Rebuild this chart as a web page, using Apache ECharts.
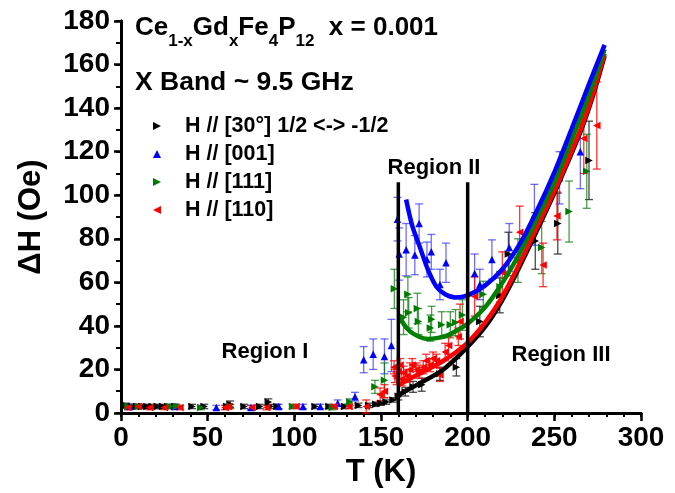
<!DOCTYPE html>
<html>
<head>
<meta charset="utf-8">
<script src="https://cdn.jsdelivr.net/npm/echarts@6/dist/echarts.min.js"></script>
<style>
  html, body { margin: 0; padding: 0; background: #fff; }
  #chart { width: 675px; height: 493px; }
</style>
</head>
<body>
<div id="chart"></div>
<script>
// ---- measured points (T in K, linewidth in Oe, error half-width) ----
const blackT = [3, 6, 9, 12, 15, 18, 21, 24, 27, 31, 41, 48, 61, 63, 71, 80, 85, 86, 90, 112, 120, 129, 137, 143, 147, 150, 153, 157, 160, 164, 168.5, 173.5, 184, 193.5, 207, 218.5, 223.5, 239, 252, 270]
const blackY = [3.5, 3, 3, 3, 3, 3, 3, 3, 3, 3, 3, 3, 3, 4, 3, 3, 5, 3, 3, 3, 3, 3, 3.5, 3.5, 4, 4.5, 5, 6, 7.5, 9.8, 12, 13, 18, 21, 42, 54, 73, 79, 87, 116]
const blackErr = [1, 1, 1, 1, 1, 1, 1, 1, 1, 1, 1, 1, 1, 1.5, 1, 1, 1.5, 1, 1, 1, 1, 1, 1, 1, 1, 1, 1, 1, 1.5, 2, 2.5, 3, 3, 4, 7, 8, 10, 13, 14, 18]

const blueT = [5, 31, 55, 75, 91, 105, 115, 125, 135, 140, 145.5, 152, 156, 159.5, 160.5, 164.5, 169.5, 172, 176.5, 179, 184, 187.5, 204, 207, 214, 224, 238.5, 253, 265]
const blueY = [3, 3, 2.5, 2.5, 3, 3, 3, 4.5, 7.5, 24.5, 27, 26, 31, 89, 73, 75, 72.5, 87, 70.5, 74, 59, 69, 64, 59, 70.5, 76, 91, 108, 120]
const blueErr = [1, 1, 1, 1, 1, 1, 1, 1.5, 2, 6, 7, 8, 12, 10, 12, 12, 9, 9, 8, 8, 7, 9, 9, 7, 9, 11, 14, 12, 17]

const greenT = [4, 10, 28, 32, 46, 63, 99, 122, 132, 146.5, 152, 157.7, 163, 165.5, 166, 171, 171.6, 178.5, 179.2, 185, 190, 193, 197, 209, 218.7, 229, 242.7, 258.5, 268.7]
const greenY = [3, 3, 3, 3, 2.5, 3, 3, 2.5, 5, 12, 15, 57, 44, 54.5, 46, 48, 42, 39, 43, 40.5, 40.5, 41.5, 45, 54.5, 58, 70, 76, 92.5, 111]
const greenErr = [1, 1, 1, 1, 1, 1, 1, 1, 1.5, 3, 8, 9, 8, 8, 7, 7, 6, 6, 6, 6, 6, 6, 7, 6, 7, 10, 12, 14, 17]

const redT = [4, 10, 16.5, 25, 34, 60, 62, 75.5, 84, 101, 123, 131.5, 141.5, 149.5, 152, 157.5, 158, 159, 160, 161, 162, 163, 165, 166.7, 168, 170.6, 172, 174.4, 176, 178.3, 180, 182, 184, 187, 189, 194.6, 195.6, 204, 220, 230, 243.5, 251.5, 267, 274.5]
const redY = [2.5, 3, 2.5, 2.5, 2.5, 2.5, 3, 2.5, 2.5, 3, 3, 3, 3, 8.5, 10, 21, 17, 16, 19, 22, 15.5, 18.5, 17, 20, 22, 20, 19, 21, 24, 22, 25, 24, 17.5, 28, 31, 35, 42, 53.5, 64.5, 83, 68, 90.5, 126, 132]
const redErr = [1, 1, 1, 1, 1, 1, 1, 1, 1, 1, 1, 1, 3, 3, 3, 3, 3, 3, 3, 3, 3, 3, 3, 3, 3, 3, 3, 3, 3, 3, 3, 3, 3, 4, 4, 4, 8, 9, 9.5, 12, 10, 11, 16, 20]

// ---- fitted curves ----
const fitBlackT = [160.5, 172, 186, 199.5, 210, 219, 228, 238, 250, 265, 272, 279]
const fitBlackY = [8.5, 13.5, 20, 30, 39.5, 50.5, 64, 80.5, 101, 129, 145, 164]
const fitRedT = [160.5, 172, 186, 199.5, 210, 219, 228, 238, 250, 265, 272, 279]
const fitRedY = [13, 18, 24, 32, 41.5, 52, 65.5, 82, 102, 130, 146, 165]
const fitGreenT = [160.5, 166, 172, 177, 183, 188, 194, 200, 210, 219, 228, 238, 250, 262, 270, 279]
const fitGreenY = [44, 38, 35, 34, 34.5, 35.5, 38, 41, 48.5, 58.5, 70.5, 86, 106, 129.5, 146, 167]
const fitBlueT = [164.5, 168, 172.5, 177, 182, 187, 193, 200, 210, 220, 230, 240, 250, 260, 270, 279]
const fitBlueY = [98, 86, 76, 66, 58, 54.5, 53, 54, 58.5, 66, 77.5, 93, 110.5, 130.5, 151, 169]

// region boundaries
const boundT = [160, 200]
const boundTop = 106

const seriesNames = ['H // [30°] 1/2 <-> -1/2', 'H // [001]', 'H // [111]', 'H // [110]']

const FONT = 'Liberation Sans, Arial, Helvetica, sans-serif'
const RIGHT_TRI = 'path://M0,0 L10,5 L0,10 Z'
const LEFT_TRI = 'path://M10,0 L0,5 L10,10 Z'

function zip3(a, b, c) {
    return a.map((v, i) => [v, b[i], c[i]])
}
function zip2(a, b) {
    return a.map((v, i) => [v, b[i]])
}

function errorBars(data, color) {
    return {
        type: 'custom',
        xAxisIndex: 0,
        yAxisIndex: 0,
        z: 1,
        clip: false,
        silent: true,
        encode: { x: 0, y: 1 },
        data: data,
        renderItem: function (params, api) {
            const x = api.value(0), y = api.value(1), e = api.value(2)
            const hi = api.coord([x, y + e])
            const lo = api.coord([x, y - e])
            const w = 4
            const style = { stroke: color, lineWidth: 1.3 }
            return {
                type: 'group',
                children: [
                    { type: 'line', shape: { x1: hi[0], y1: hi[1], x2: lo[0], y2: lo[1] }, style: style },
                    { type: 'line', shape: { x1: hi[0] - w, y1: hi[1], x2: hi[0] + w, y2: hi[1] }, style: style },
                    { type: 'line', shape: { x1: lo[0] - w, y1: lo[1], x2: lo[0] + w, y2: lo[1] }, style: style }
                ]
            }
        }
    }
}

function points(name, data, color, symbol) {
    return {
        name: name,
        type: 'scatter',
        z: 2,
        data: data,
        symbol: symbol,
        symbolSize: 7.5,
        itemStyle: { color: color, opacity: 1 }
    }
}

function fit(data, color) {
    return {
        type: 'line',
        z: 3,
        data: data,
        smooth: 0.3,
        showSymbol: false,
        symbol: 'none',
        silent: true,
        lineStyle: { color: color, width: 4.5 }
    }
}

function bound(t) {
    return {
        type: 'line',
        z: 4,
        data: [[t, 0], [t, boundTop]],
        symbol: 'none',
        silent: true,
        lineStyle: { color: '#000', width: 3.5 }
    }
}

const chart = echarts.init(document.getElementById('chart'))

const labelFont = { color: '#000', fontSize: 28, fontWeight: 'bold', fontFamily: FONT }

const option = {
    animation: false,
    backgroundColor: '#fff',
    grid: { left: 121, right: 34, top: 21, bottom: 80 },
    legend: {
        orient: 'vertical',
        left: 148,
        top: 110,
        itemWidth: 8,
        itemHeight: 8,
        itemGap: 6,
        selectedMode: false,
        data: [
            { name: seriesNames[0], icon: RIGHT_TRI },
            { name: seriesNames[1], icon: 'triangle' },
            { name: seriesNames[2], icon: RIGHT_TRI },
            { name: seriesNames[3], icon: LEFT_TRI }
        ],
        textStyle: { color: '#000', fontSize: 21.5, fontWeight: 'bold', fontFamily: FONT, padding: [0, 0, 0, 19] }
    },
    xAxis: [{
        type: 'value', min: 0, max: 300, interval: 50, position: 'bottom',
        name: 'T (K)', nameLocation: 'middle', nameGap: 41,
        nameTextStyle: { color: '#000', fontSize: 31, fontWeight: 'bold', fontFamily: FONT },
        axisLine: { lineStyle: { color: '#000', width: 3 } },
        axisTick: { length: 8, lineStyle: { color: '#000', width: 2.5 } },
        minorTick: { show: true, splitNumber: 5, length: 4, lineStyle: { color: '#000', width: 2 } },
        axisLabel: Object.assign({ margin: 11 }, labelFont),
        splitLine: { show: false }
    }, {
        type: 'value', min: 0, max: 300, interval: 10, position: 'top',
        axisLine: { lineStyle: { color: '#000', width: 3 } },
        axisTick: { inside: true, length: 4, lineStyle: { color: '#000', width: 2 } },
        axisLabel: { show: false },
        splitLine: { show: false }
    }],
    yAxis: [{
        type: 'value', min: 0, max: 180, interval: 20, position: 'left',
        name: 'ΔH (Oe)', nameLocation: 'middle', nameGap: 74,
        nameTextStyle: { color: '#000', fontSize: 31, fontWeight: 'bold', fontFamily: FONT },
        axisLine: { show: true, lineStyle: { color: '#000', width: 3 } },
        axisTick: { show: true, length: 7, lineStyle: { color: '#000', width: 2.5 } },
        minorTick: { show: true, splitNumber: 2, length: 4, lineStyle: { color: '#000', width: 2 } },
        axisLabel: Object.assign({ margin: 11 }, labelFont),
        splitLine: { show: false }
    }, {
        type: 'value', min: 0, max: 180, interval: 10, position: 'right',
        axisLine: { show: true, lineStyle: { color: '#000', width: 3 } },
        axisTick: { show: true, inside: true, length: 5, lineStyle: { color: '#000', width: 2 } },
        axisLabel: { show: false },
        splitLine: { show: false }
    }],
    graphic: [
        {
            type: 'text', left: 135, top: 15, z: 10,
            style: {
                text: '{m|Ce}{s|1-x}{m|Gd}{s|x}{m|Fe}{s|4}{m|P}{s|12}{m|  x = 0.001}',
                rich: {
                    m: { fontSize: 26, fontWeight: 'bold', fontFamily: FONT, fill: '#000', lineHeight: 44 },
                    s: { fontSize: 17, fontWeight: 'bold', fontFamily: FONT, fill: '#000', lineHeight: 17, verticalAlign: 'bottom' }
                }
            }
        },
        {
            type: 'text', left: 135, top: 69, z: 10,
            style: { text: 'X Band ~ 9.5 GHz', fontSize: 26.5, fontWeight: 'bold', fontFamily: FONT, fill: '#000' }
        },
        {
            type: 'text', x: 265, y: 352, z: 10,
            style: { text: 'Region I', align: 'center', verticalAlign: 'middle', fontSize: 22, fontWeight: 'bold', fontFamily: FONT, fill: '#000' }
        },
        {
            type: 'text', x: 434, y: 168, z: 10,
            style: { text: 'Region II', align: 'center', verticalAlign: 'middle', fontSize: 22, fontWeight: 'bold', fontFamily: FONT, fill: '#000' }
        },
        {
            type: 'text', x: 561, y: 355, z: 10,
            style: { text: 'Region III', align: 'center', verticalAlign: 'middle', fontSize: 22, fontWeight: 'bold', fontFamily: FONT, fill: '#000' }
        }
    ],
    series: [
        errorBars(zip3(blackT, blackY, blackErr), 'rgba(40,40,40,0.85)'),
        errorBars(zip3(blueT, blueY, blueErr), 'rgba(30,30,255,0.65)'),
        errorBars(zip3(greenT, greenY, greenErr), 'rgba(0,115,0,0.7)'),
        errorBars(zip3(redT, redY, redErr), 'rgba(255,0,0,0.8)'),
        points(seriesNames[0], zip2(blackT, blackY), '#000', RIGHT_TRI),
        points(seriesNames[1], zip2(blueT, blueY), '#0000ff', 'triangle'),
        points(seriesNames[2], zip2(greenT, greenY), '#007a00', RIGHT_TRI),
        points(seriesNames[3], zip2(redT, redY), '#ff0000', LEFT_TRI),
        fit(zip2(fitBlackT, fitBlackY), '#000'),
        fit(zip2(fitRedT, fitRedY), '#ff0000'),
        fit(zip2(fitGreenT, fitGreenY), '#008000'),
        fit(zip2(fitBlueT, fitBlueY), '#0000ff'),
        bound(boundT[0]),
        bound(boundT[1])
    ]
}

chart.setOption(option)
</script>
</body>
</html>
